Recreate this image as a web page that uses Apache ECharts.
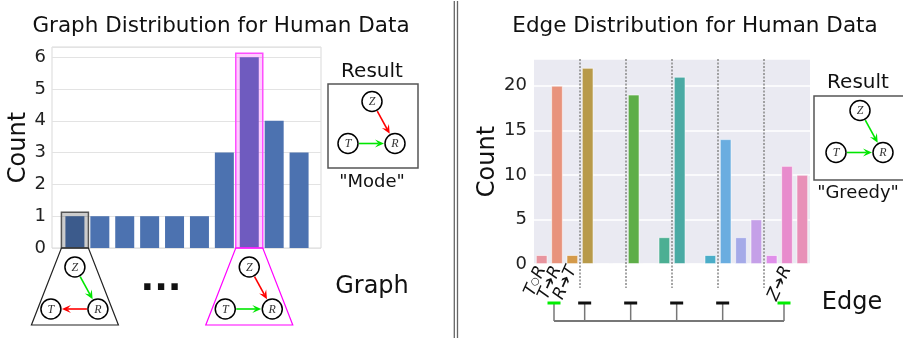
<!DOCTYPE html>
<html>
<head>
<meta charset="utf-8">
<script src="https://cdn.jsdelivr.net/npm/echarts@6/dist/echarts.min.js"></script>
<style>
	html, body { margin: 0; padding: 0; background: #fff; }
	#main { width: 903px; height: 339px; }
</style>
</head>
<body>
<div id="main"></div>
<script>
//Graph panel: one bar per distinct graph
let graphCounts = [1, 1, 1, 1, 1, 1, 3, 6, 4, 3];
let rareGraph = 0;   //grey box
let modeGraph = 7;   //magenta box
let rareGraphEdges = [['Z', 'R', 'green'], ['R', 'T', 'red']];
let modeGraphEdges = [['Z', 'R', 'red'], ['T', 'R', 'green']];

//Edge panel: 6 node pairs, 3 states each
let edgeLabels = ['T○R', 'T➔R', 'R➔T', '', '', '', '', '', '', '', '', '', '', '', '', '', 'Z➔R', ''];
let edgeCounts = [1, 20, 1, 22, 0, 0, 19, 0, 3, 21, 0, 1, 14, 3, 5, 1, 11, 10];
let greedyEdges = [1, 16];
let greedyGraphEdges = [['Z', 'R', 'green'], ['T', 'R', 'green']];
let groupSize = 3;

//Styles
let font = 'DejaVu Sans';
let edgePalette = ['#e8959f', '#e8937c', '#d49a4b', '#b89a4a', '#9aa447', '#72ab47',
	'#5eae48', '#4cb07a', '#4caf93', '#4aaaa4', '#4aaab5', '#4badc8',
	'#6aade0', '#a5aae8', '#c5a0e8', '#e090ea', '#e88ccd', '#e890b8'];
let arrowColors = { red: '#ff0000', green: '#00e600' };

let chart = echarts.init(document.getElementById('main'));

function edgeLabel(val) {
	if (!val) return '';
	let mid = val[1] === '○' ? 'c' : 'a';
	return '{v|' + val[0] + '}{' + mid + '|' + val[1] + '}{v|' + val[2] + '}';
}

let option = {
	animation: false,
	textStyle: { fontFamily: font },
	title: [
		{ text: 'Graph Distribution for Human Data', left: 216, top: 10, textAlign: 'center',
			textStyle: { fontSize: 21.5, fontWeight: 'normal', color: '#111', fontFamily: font } },
		{ text: 'Edge Distribution for Human Data', left: 690, top: 10, textAlign: 'center',
			textStyle: { fontSize: 21.5, fontWeight: 'normal', color: '#111', fontFamily: font } }
	],
	grid: [
		{ left: 52, top: 47, width: 269, height: 201, show: true, borderColor: '#d9d9d9', borderWidth: 1 },
		{ left: 534, top: 59, width: 276, height: 205, show: true, borderWidth: 0, backgroundColor: '#eaeaf2' }
	],
	xAxis: [
		{ gridIndex: 0, type: 'value', min: -0.92, max: 9.88, show: false },
		{ gridIndex: 1, type: 'category', data: edgeLabels, boundaryGap: true,
			axisLine: { show: false }, axisTick: { show: false }, splitLine: { show: false },
			axisLabel: {
				interval: 0, rotate: 66, margin: 3, color: '#111',
				formatter: edgeLabel,
				rich: {
					v: { fontSize: 17, fontStyle: 'italic', fontFamily: font, color: '#111' },
					a: { fontSize: 15, fontWeight: 'bold', fontFamily: font, color: '#111' },
					c: { fontSize: 10, fontFamily: font, color: '#111' }
				}
			} }
	],
	yAxis: [
		{ gridIndex: 0, type: 'value', min: 0, max: 6.32, interval: 1,
			name: 'Count', nameLocation: 'middle', nameGap: 21, nameRotate: 90,
			nameTextStyle: { fontSize: 24, color: '#111', fontFamily: font },
			axisLine: { show: false }, axisTick: { show: false },
			axisLabel: { fontSize: 18, color: '#222', margin: 6,
				formatter: v => Number.isInteger(v) ? v : '' },
			splitLine: { lineStyle: { color: '#e3e3e3', width: 1.2 } } },
		{ gridIndex: 1, type: 'value', min: 0, max: 23, interval: 5,
			name: 'Count', nameLocation: 'middle', nameGap: 32, nameRotate: 90,
			nameTextStyle: { fontSize: 24, color: '#111', fontFamily: font },
			axisLine: { show: false }, axisTick: { show: false },
			axisLabel: { fontSize: 18, color: '#222', margin: 7,
				formatter: v => v % 5 === 0 ? v : '' },
			splitLine: { lineStyle: { color: '#ffffff', width: 1.5 } } }
	],
	series: [
		{ type: 'bar', xAxisIndex: 0, yAxisIndex: 0, barWidth: 19,
			data: graphCounts.map((v, i) => [i, v]),
			itemStyle: { color: '#4c72b0' } },
		{ type: 'bar', xAxisIndex: 1, yAxisIndex: 1, barWidth: '75%',
			data: edgeCounts.map((v, i) => ({ value: v, itemStyle: { color: edgePalette[i] } })),
			itemStyle: { borderColor: 'rgba(255,255,255,0.7)', borderWidth: 0.8 } }
	]
};
chart.setOption(option);

/* Decorations */
let els = [];

function px(grid, pt) {
	return chart.convertToPixel({ gridIndex: grid }, pt);
}

function addText(text, x, y, size, extra) {
	els.push({
		type: 'text', z: 60,
		style: Object.assign({ text: text, x: x, y: y, fontSize: size, fontFamily: font,
			fill: '#111', textAlign: 'center', textVerticalAlign: 'middle' }, extra || {})
	});
}

function addArrow(a, b, color) {
	let dx = b[0] - a[0], dy = b[1] - a[1];
	let len = Math.sqrt(dx * dx + dy * dy);
	let ux = dx / len, uy = dy / len;
	let r = 11;
	let s = [a[0] + ux * r, a[1] + uy * r];
	let e = [b[0] - ux * r, b[1] - uy * r];
	let head = 9, hw = 4;
	let back = [e[0] - ux * head, e[1] - uy * head];
	let notch = [e[0] - ux * head * 0.6, e[1] - uy * head * 0.6];
	els.push({ type: 'line', z: 61, shape: { x1: s[0], y1: s[1], x2: notch[0], y2: notch[1] },
		style: { stroke: color, lineWidth: 1.6 } });
	els.push({ type: 'polygon', z: 61, shape: { points: [e,
		[back[0] - uy * hw, back[1] + ux * hw], notch, [back[0] + uy * hw, back[1] - ux * hw]] },
		style: { fill: color } });
}

function drawGraph(cx, cy, edges) {
	let nodes = { Z: [cx, cy - 21], T: [cx - 24, cy + 21], R: [cx + 23, cy + 21] };
	for (let i = 0; i < edges.length; i++) {
		let ed = edges[i];
		addArrow(nodes[ed[0]], nodes[ed[1]], arrowColors[ed[2]]);
	}
	for (let name in nodes) {
		let p = nodes[name];
		els.push({ type: 'circle', z: 62, shape: { cx: p[0], cy: p[1], r: 10 },
			style: { fill: '#fff', stroke: '#000', lineWidth: 1.5 } });
		els.push({ type: 'text', z: 63, style: { text: name, x: p[0], y: p[1] + 0.5,
			fontSize: 12, fontFamily: 'Liberation Serif', fontStyle: 'italic', fill: '#333',
			textAlign: 'center', textVerticalAlign: 'middle' } });
	}
}

function highlight(i, stroke, fill, trap, edges) {
	let base = px(0, [i, 0]);
	let top = px(0, [i, graphCounts[i]]);
	let half = 13.5;
	els.push({ type: 'rect', z: 50,
		shape: { x: base[0] - half, y: top[1] - 4, width: half * 2, height: base[1] - top[1] + 4 },
		style: { fill: fill, stroke: stroke, lineWidth: 1.5 } });
	els.push({ type: 'polygon', z: 50,
		shape: { points: [[base[0] - half, base[1]], [base[0] + half, base[1]],
			[base[0] + 43.5, 325], [base[0] - 43.5, 325]] },
		style: { fill: 'none', stroke: trap, lineWidth: 1.2 } });
	drawGraph(base[0], 288, edges);
}

highlight(rareGraph, '#555555', 'rgba(0,0,0,0.2)', '#222222', rareGraphEdges);
highlight(modeGraph, '#ff4dff', 'rgba(255,0,255,0.2)', '#ff00ff', modeGraphEdges);
addText('...', 161, 281, 36, { fontWeight: 'bold' });
addText('Graph', 372, 287, 24);

//Left result box
addText('Result', 372, 72, 20);
els.push({ type: 'rect', z: 55, shape: { x: 328, y: 84, width: 90, height: 84 },
	style: { fill: '#fff', stroke: '#555', lineWidth: 1.5 } });
drawGraph(372, 122.5, modeGraphEdges);
addText('"Mode"', 372, 182, 18);

//Divider
els.push({ type: 'line', z: 40, shape: { x1: 454.3, y1: 1, x2: 454.3, y2: 338 }, style: { stroke: '#666', lineWidth: 1.3 } });
els.push({ type: 'line', z: 40, shape: { x1: 457.5, y1: 1, x2: 457.5, y2: 338 }, style: { stroke: '#666', lineWidth: 1.3 } });

//Group separators on edge panel
let nGroups = edgeCounts.length / groupSize;
for (let g = 1; g < nGroups; g++) {
	let x = (px(1, [g * groupSize - 1, 0])[0] + px(1, [g * groupSize, 0])[0]) / 2;
	els.push({ type: 'line', z: 45, shape: { x1: x, y1: 59, x2: x, y2: 288 },
		style: { stroke: '#888', lineWidth: 1.5, lineDash: [2, 1.5] } });
}

//Bracket under edge panel
let marks = [];
for (let g = 0; g < nGroups; g++) {
	let pick = g * groupSize, green = false;
	for (let k = 0; k < greedyEdges.length; k++) {
		if (Math.floor(greedyEdges[k] / groupSize) === g) {
			pick = greedyEdges[k];
			green = true;
		}
	}
	marks.push([px(1, [pick, 0])[0] - 3, green]);
}
for (let m = 0; m < marks.length; m++) {
	let x = marks[m][0];
	els.push({ type: 'line', z: 45, shape: { x1: x, y1: 303, x2: x, y2: 321 },
		style: { stroke: '#777', lineWidth: 1.5 } });
	els.push({ type: 'rect', z: 46, shape: { x: x - 6.5, y: 301.5, width: 13, height: 3 },
		style: { fill: marks[m][1] ? '#00ee00' : '#111' } });
}
els.push({ type: 'line', z: 45, shape: { x1: marks[0][0], y1: 321, x2: marks[marks.length - 1][0], y2: 321 },
	style: { stroke: '#777', lineWidth: 2 } });
addText('Edge', 852, 303, 24);

//Right result box
addText('Result', 858, 83, 20);
els.push({ type: 'rect', z: 55, shape: { x: 814, y: 96, width: 92, height: 84 },
	style: { fill: '#fff', stroke: '#555', lineWidth: 1.5 } });
drawGraph(860, 131.5, greedyGraphEdges);
addText('"Greedy"', 858, 193, 18);

chart.setOption({ graphic: { elements: els } });
</script>
</body>
</html>
